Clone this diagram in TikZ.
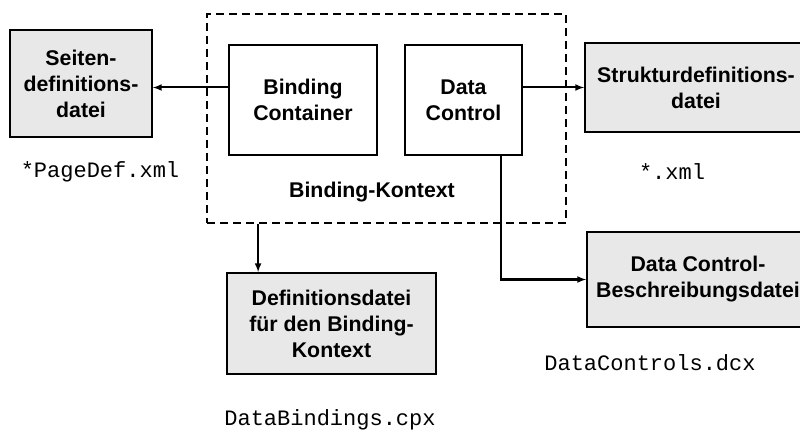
\documentclass[tikz,border=0pt]{standalone}
\usepackage{fontspec}
\setmainfont{Liberation Sans}
\setmonofont{Liberation Mono}
\tikzset{
  filebox/.style={draw, line width=1.8pt, fill=gray!18, align=center, inner sep=0pt},
  compbox/.style={draw, line width=1.8pt, fill=white, align=center, inner sep=0pt},
  fname/.style={font=\fontsize{22}{26}\selectfont\ttfamily},
  conn/.style={-latex, line width=2pt}
}
\begin{document}
\begin{tikzpicture}[x=1pt,y=1pt,font=\fontsize{21.3}{26}\selectfont\bfseries]
\useasboundingbox (0,0) rectangle (800,-430);

% binding context
\node[draw, line width=1.8pt, dash pattern=on 8pt off 5pt, minimum width=359pt, minimum height=209pt] (ctx) at (386.5,-118.5) {};
\node[compbox, minimum width=148pt, minimum height=110pt] (bc) at (303,-100) {Binding\\Container};
\node[compbox, minimum width=117pt, minimum height=110pt] (dc) at (463.5,-100) {Data\\Control};
\node (ctxlabel) at (372,-192) {Binding-Kontext};

% files
\node[filebox, minimum width=142pt, minimum height=107pt] (seiten) at (81,-83.5) {Seiten-\\definitions-\\datei};
\node[filebox, minimum width=222pt, minimum height=89pt] (struk) at (696,-87.5) {Strukturdefinitions-\\datei};
\node[filebox, minimum width=209pt, minimum height=101pt] (defn) at (331.5,-323.5) {Definitionsdatei\\für den Binding-\\Kontext};
\node[filebox, minimum width=222pt, minimum height=95pt] (dcb) at (698,-279.5) {Data Control-\\Beschreibungsdatei};

% file names
\node[fname] (pagedef) at (100,-172) {*PageDef.xml};
\node[fname] (xml) at (672,-172) {*.xml};
\node[fname] (cpx) at (330,-420) {DataBindings.cpx};
\node[fname] (dcx) at (650,-363) {DataControls.dcx};

% connectors
\draw[conn] ([yshift=12.5pt]bc.west) -- ([yshift=12.5pt]bc.west -| seiten.east);
\draw[conn] (dc.east |- struk.west) -- (struk.west);
\draw[conn] ([xshift=52pt]ctx.south west) -- ([xshift=32pt]defn.north west);
\draw[conn] ([xshift=-22pt]dc.south east) |- (dcb.west);

\end{tikzpicture}
\end{document}
